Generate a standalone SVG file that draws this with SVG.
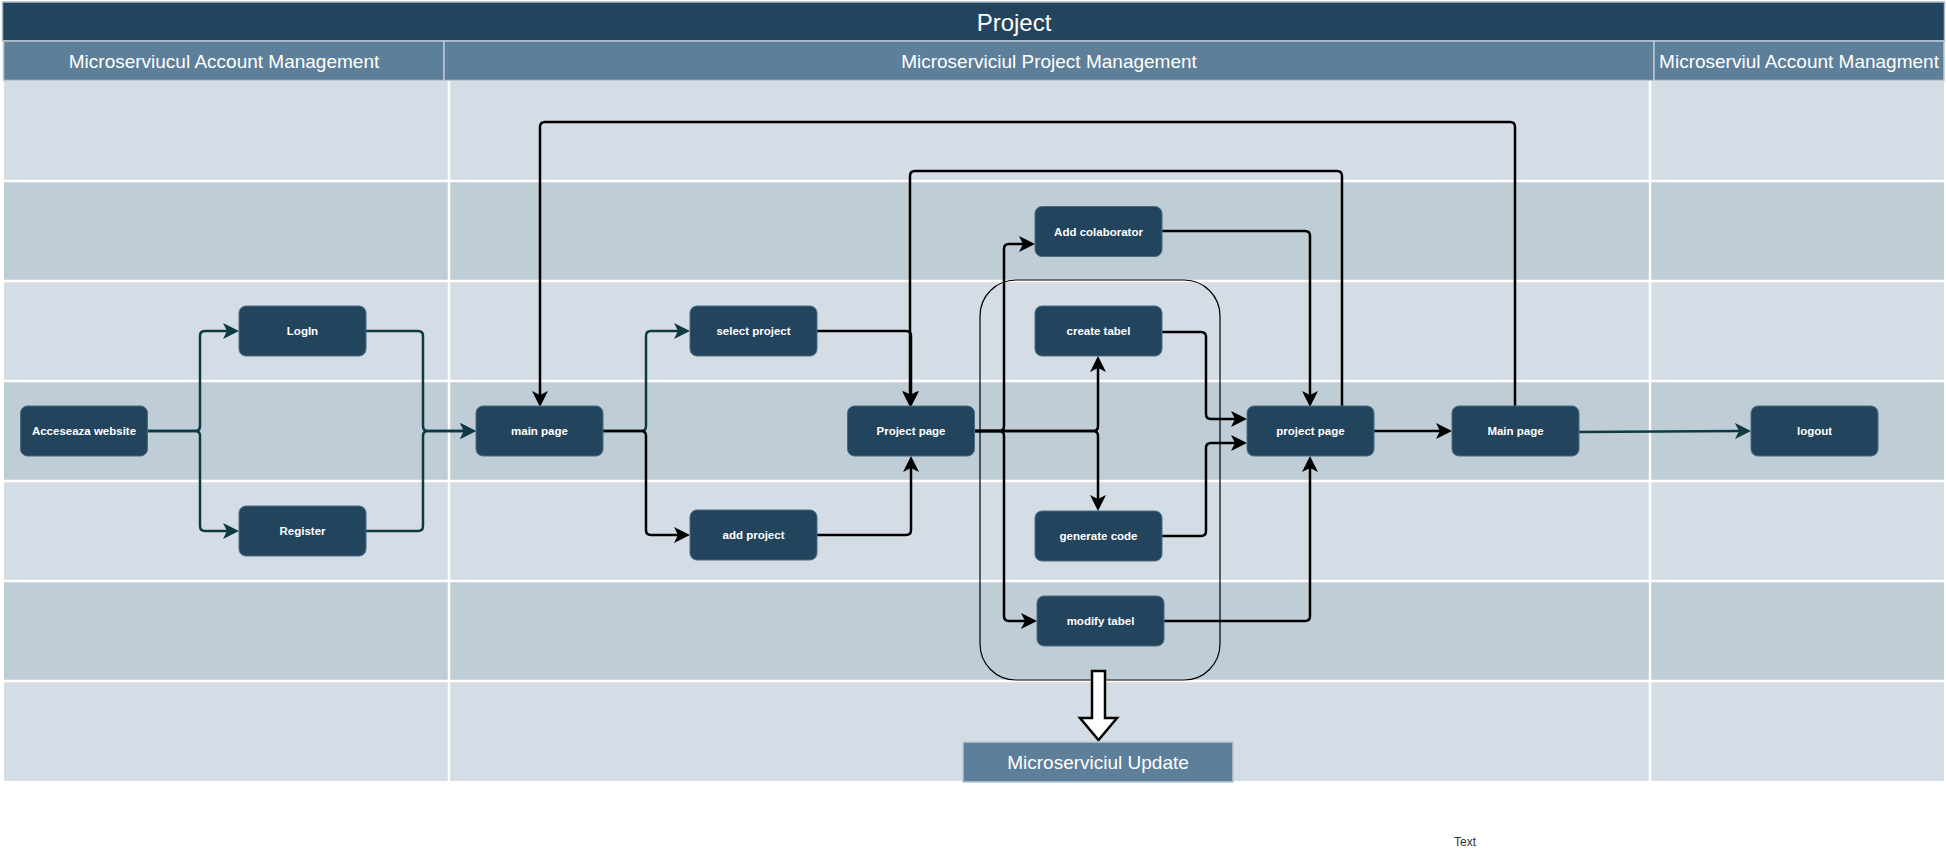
<svg xmlns="http://www.w3.org/2000/svg" width="1946" height="854" viewBox="0 0 1946 854">
<defs>
<style>
.lane-l{fill:#D4DDE5}
.lane-d{fill:#BFCDD6}
.sep{stroke:#FFFFFF;stroke-width:2.5;fill:none}
.hdr{fill:#5D7F99;stroke:#BAC8D3;stroke-width:1.5}
.htxt{font-family:"Liberation Sans",Arial,sans-serif;font-size:19px;fill:#FFFFFF;text-anchor:middle}
.node rect{fill:#23445D;stroke:#4A6A82;stroke-width:1}
.node text{font-family:"Liberation Sans",Arial,sans-serif;font-size:11.5px;font-weight:bold;fill:#FFFFFF;text-anchor:middle}
.e{fill:none;stroke:#000000;stroke-width:2.5}
.et{fill:none;stroke:#0E3A44;stroke-width:2.5}
</style>
<marker id="ab" viewBox="0 0 16 16" refX="6" refY="8" markerWidth="16" markerHeight="16" markerUnits="userSpaceOnUse" orient="auto">
<path d="M0,0 L16,8 L0,16 L4,8 Z" fill="#000000"/>
</marker>
<marker id="at" viewBox="0 0 16 16" refX="6" refY="8" markerWidth="16" markerHeight="16" markerUnits="userSpaceOnUse" orient="auto">
<path d="M0,0 L16,8 L0,16 L4,8 Z" fill="#0E3A44"/>
</marker>
</defs>
<rect x="0" y="0" width="1946" height="854" fill="#FFFFFF"/>
<g id="pool">
<rect x="2.5" y="2" width="1942" height="39" fill="#23445D" stroke="#A9BBC9" stroke-width="1.5"/>
<text x="1014" y="31" font-family="'Liberation Sans',Arial,sans-serif" font-size="24" fill="#FFFFFF" text-anchor="middle">Project</text>
<rect class="hdr" x="3.5" y="41" width="440.5" height="39.5"/>
<rect class="hdr" x="444" y="41" width="1210" height="39.5"/>
<rect class="hdr" x="1654" y="41" width="290" height="39.5"/>
<text class="htxt" x="224" y="68">Microserviucul Account Management</text>
<text class="htxt" x="1049" y="68">Microserviciul Project Management</text>
<text class="htxt" x="1799" y="68">Microserviul Account Managment</text>
<rect class="lane-l" x="4" y="81" width="1940" height="100"/>
<rect class="lane-d" x="4" y="181" width="1940" height="100"/>
<rect class="lane-l" x="4" y="281" width="1940" height="100"/>
<rect class="lane-d" x="4" y="381" width="1940" height="100"/>
<rect class="lane-l" x="4" y="481" width="1940" height="100"/>
<rect class="lane-d" x="4" y="581" width="1940" height="100"/>
<rect class="lane-l" x="4" y="681" width="1940" height="100"/>
<path class="sep" d="M4,181 H1944 M4,281 H1944 M4,381 H1944 M4,481 H1944 M4,581 H1944 M4,681 H1944 M449,81 V781 M1650,81 V781"/>
</g>
<g id="group-update">
<rect x="980" y="280" width="240" height="400" rx="36" ry="36" fill="none" stroke="#000000" stroke-width="1.2"/>
</g>
<g id="connectors">
<path class="et" marker-end="url(#at)" d="M147,431 L195,431 Q200,431 200,426 L200,336 Q200,331 205,331 L229,331"/>
<path class="et" marker-end="url(#at)" d="M147,431 L195,431 Q200,431 200,436 L200,526 Q200,531 205,531 L229,531"/>
<path class="et" marker-end="url(#at)" d="M366,331 L418,331 Q423,331 423,336 L423,426 Q423,431 428,431 L466,431"/>
<path class="et" marker-end="url(#at)" d="M366,531 L418,531 Q423,531 423,526 L423,436 Q423,431 428,431 L466,431"/>
<path class="et" marker-end="url(#at)" d="M603,431 L641,431 Q646,431 646,426 L646,336 Q646,331 651,331 L680,331"/>
<path class="e" marker-end="url(#ab)" d="M603,431 L641,431 Q646,431 646,436 L646,530 Q646,535 651,535 L680,535"/>
<path class="e" marker-end="url(#ab)" d="M817,331 L906,331 Q911,331 911,336 L911,397"/>
<path class="e" marker-end="url(#ab)" d="M817,535 L906,535 Q911,535 911,530 L911,466"/>
<path class="e" marker-end="url(#ab)" d="M1342,406 L1342,176 Q1342,171 1337,171 L915,171 Q910,171 910,176 L910,397"/>
<path class="e" marker-end="url(#ab)" d="M1515,406 L1515,127 Q1515,122 1510,122 L545,122 Q540,122 540,127 L540,397"/>
<path class="e" marker-end="url(#ab)" d="M974,431 L999,431 Q1004,431 1004,426 L1004,249 Q1004,244 1009,244 L1025,244"/>
<path class="e" marker-end="url(#ab)" d="M974,431 L1093,431 Q1098,431 1098,426 L1098,366"/>
<path class="e" marker-end="url(#ab)" d="M974,431 L1093,431 Q1098,431 1098,436 L1098,501"/>
<path class="e" marker-end="url(#ab)" d="M974,431 L999,431 Q1004,431 1004,436 L1004,616 Q1004,621 1009,621 L1027,621"/>
<path class="e" marker-end="url(#ab)" d="M1162,231 L1305,231 Q1310,231 1310,236 L1310,397"/>
<path class="e" marker-end="url(#ab)" d="M1162,332 L1201,332 Q1206,332 1206,337 L1206,414 Q1206,419 1211,419 L1237,419"/>
<path class="e" marker-end="url(#ab)" d="M1162,536 L1201,536 Q1206,536 1206,531 L1206,448 Q1206,443 1211,443 L1237,443"/>
<path class="e" marker-end="url(#ab)" d="M1163,621 L1305,621 Q1310,621 1310,616 L1310,466"/>
<path class="e" marker-end="url(#ab)" d="M1374,431 L1442,431"/>
<path class="et" marker-end="url(#at)" d="M1579,432 L1741,431"/>
</g>
<g id="n-acceseaza" class="node"><rect x="20.5" y="406" width="127" height="50" rx="7"/><text x="84" y="435">Acceseaza website</text></g>
<g id="n-login" class="node"><rect x="239" y="306" width="127" height="50" rx="7"/><text x="302.5" y="335">LogIn</text></g>
<g id="n-register" class="node"><rect x="239" y="506" width="127" height="50" rx="7"/><text x="302.5" y="535">Register</text></g>
<g id="n-mainpage" class="node"><rect x="476" y="406" width="127" height="50" rx="7"/><text x="539.5" y="435">main page</text></g>
<g id="n-selectproject" class="node"><rect x="690" y="306" width="127" height="50" rx="7"/><text x="753.5" y="335">select project</text></g>
<g id="n-addproject" class="node"><rect x="690" y="510" width="127" height="50" rx="7"/><text x="753.5" y="539">add project</text></g>
<g id="n-projectpage1" class="node"><rect x="847.5" y="406" width="127" height="50" rx="7"/><text x="911" y="435">Project page</text></g>
<g id="n-addcolab" class="node"><rect x="1035" y="206.5" width="127" height="50" rx="7"/><text x="1098.5" y="235.5">Add colaborator</text></g>
<g id="n-createtabel" class="node"><rect x="1035" y="306" width="127" height="50" rx="7"/><text x="1098.5" y="335">create tabel</text></g>
<g id="n-generatecode" class="node"><rect x="1035" y="511" width="127" height="50" rx="7"/><text x="1098.5" y="540">generate code</text></g>
<g id="n-modifytabel" class="node"><rect x="1037" y="596" width="127" height="50" rx="7"/><text x="1100.5" y="625">modify tabel</text></g>
<g id="n-projectpage2" class="node"><rect x="1247" y="406" width="127" height="50" rx="7"/><text x="1310.5" y="435">project page</text></g>
<g id="n-mainpage2" class="node"><rect x="1452" y="406" width="127" height="50" rx="7"/><text x="1515.5" y="435">Main page</text></g>
<g id="n-logout" class="node"><rect x="1751" y="406" width="127" height="50" rx="7"/><text x="1814.5" y="435">logout</text></g>
<g id="n-blockarrow">
<polygon points="1092,671 1105,671 1105,718 1117,718 1098.5,740 1080,718 1092,718" fill="#FFFFFF" stroke="#000000" stroke-width="2.5" stroke-linejoin="miter"/>
</g>
<g id="n-update">
<rect x="963" y="742" width="270" height="40" fill="#5D7F99" stroke="#BAC8D3" stroke-width="1.5"/>
<text class="htxt" x="1098" y="769">Microserviciul Update</text>
</g>
<g id="n-text">
<text x="1465" y="846" font-family="'Liberation Sans',Arial,sans-serif" font-size="12" fill="#333333" text-anchor="middle">Text</text>
</g>
</svg>
